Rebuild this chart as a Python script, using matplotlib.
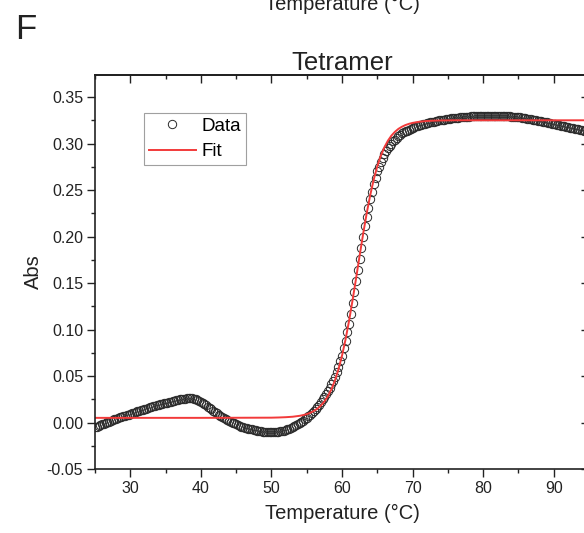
import numpy as np
import matplotlib
matplotlib.use("Agg")
import matplotlib.pyplot as plt
from matplotlib.ticker import MultipleLocator, FormatStrFormatter

plt.rcParams['font.family'] = ['Liberation Sans', 'DejaVu Sans']

# Melting curve, sampled every 0.25 °C from 25 to 95 °C
temp_start, temp_step = 25.0, 0.25
absorbance = [
    -0.0050, -0.0043, -0.0035, -0.0028,
    -0.0020, -0.0012, -0.0005, 0.0003,
    0.0010, 0.0018, 0.0025, 0.0033,
    0.0040, 0.0048, 0.0055, 0.0063,
    0.0070, 0.0075, 0.0080, 0.0085,
    0.0090, 0.0098, 0.0105, 0.0113,
    0.0120, 0.0125, 0.0130, 0.0135,
    0.0140, 0.0148, 0.0155, 0.0163,
    0.0170, 0.0175, 0.0180, 0.0185,
    0.0190, 0.0195, 0.0200, 0.0205,
    0.0210, 0.0215, 0.0220, 0.0225,
    0.0230, 0.0235, 0.0240, 0.0245,
    0.0250, 0.0253, 0.0256, 0.0258,
    0.0260, 0.0261, 0.0261, 0.0260,
    0.0255, 0.0248, 0.0240, 0.0231,
    0.0220, 0.0209, 0.0197, 0.0184,
    0.0170, 0.0155, 0.0140, 0.0125,
    0.0110, 0.0097, 0.0084, 0.0072,
    0.0060, 0.0050, 0.0040, 0.0030,
    0.0020, 0.0010, 0.0000, -0.0010,
    -0.0020, -0.0028, -0.0035, -0.0043,
    -0.0050, -0.0055, -0.0060, -0.0065,
    -0.0070, -0.0075, -0.0080, -0.0085,
    -0.0090, -0.0093, -0.0095, -0.0098,
    -0.0100, -0.0102, -0.0103, -0.0104,
    -0.0105, -0.0105, -0.0104, -0.0102,
    -0.0100, -0.0096, -0.0091, -0.0086,
    -0.0080, -0.0073, -0.0066, -0.0058,
    -0.0050, -0.0041, -0.0031, -0.0021,
    -0.0010, 0.0004, 0.0018, 0.0033,
    0.0050, 0.0067, 0.0085, 0.0102,
    0.0120, 0.0143, 0.0167, 0.0193,
    0.0220, 0.0248, 0.0278, 0.0308,
    0.0340, 0.0375, 0.0412, 0.0451,
    0.0490, 0.0545, 0.0600, 0.0660,
    0.0720, 0.0800, 0.0880, 0.0970,
    0.1060, 0.1170, 0.1280, 0.1400,
    0.1520, 0.1640, 0.1760, 0.1880,
    0.2000, 0.2110, 0.2210, 0.2310,
    0.2400, 0.2480, 0.2560, 0.2630,
    0.2700, 0.2750, 0.2800, 0.2845,
    0.2890, 0.2920, 0.2950, 0.2975,
    0.3000, 0.3022, 0.3043, 0.3062,
    0.3080, 0.3095, 0.3108, 0.3120,
    0.3130, 0.3140, 0.3150, 0.3160,
    0.3170, 0.3177, 0.3184, 0.3190,
    0.3196, 0.3202, 0.3208, 0.3213,
    0.3218, 0.3223, 0.3228, 0.3232,
    0.3236, 0.3240, 0.3244, 0.3248,
    0.3252, 0.3255, 0.3258, 0.3261,
    0.3264, 0.3267, 0.3270, 0.3272,
    0.3274, 0.3277, 0.3279, 0.3281,
    0.3283, 0.3285, 0.3287, 0.3288,
    0.3290, 0.3291, 0.3292, 0.3293,
    0.3294, 0.3295, 0.3296, 0.3297,
    0.3297, 0.3298, 0.3298, 0.3299,
    0.3299, 0.3299, 0.3299, 0.3299,
    0.3298, 0.3298, 0.3297, 0.3296,
    0.3295, 0.3294, 0.3293, 0.3291,
    0.3290, 0.3288, 0.3286, 0.3284,
    0.3282, 0.3280, 0.3278, 0.3275,
    0.3272, 0.3269, 0.3266, 0.3262,
    0.3258, 0.3255, 0.3251, 0.3247,
    0.3243, 0.3239, 0.3235, 0.3231,
    0.3227, 0.3223, 0.3219, 0.3215,
    0.3211, 0.3207, 0.3202, 0.3198,
    0.3193, 0.3189, 0.3185, 0.3180,
    0.3176, 0.3172, 0.3168, 0.3163,
    0.3159, 0.3155, 0.3151, 0.3147,
    0.3143, 0.3139, 0.3135, 0.3131,
    0.3127,
]
temperature = temp_start + temp_step * np.arange(len(absorbance))

# Two-state fit curve
fit_temp = [25, 40, 50, 51, 52, 53, 54, 54.5, 55, 55.5, 56, 56.5, 57, 57.5,
            58, 58.5, 59, 59.5, 60, 60.5, 61, 61.5, 62, 62.5, 63, 63.5, 64,
            64.5, 65, 65.5, 66, 66.5, 67, 67.5, 68, 68.5, 69, 69.5, 70, 71,
            72, 73, 74, 75, 76, 85, 95]
fit_abs = [0.0050, 0.0050, 0.0052, 0.0054, 0.0057, 0.0062, 0.0072, 0.0080,
           0.0090, 0.0104, 0.0123, 0.0148, 0.0181, 0.0225, 0.0283, 0.0357,
           0.0452, 0.0572, 0.0718, 0.0892, 0.1093, 0.1316, 0.1553, 0.1795,
           0.2030, 0.2250, 0.2445, 0.2614, 0.2755, 0.2869, 0.2959, 0.3030,
           0.3085, 0.3126, 0.3158, 0.3181, 0.3199, 0.3212, 0.3222, 0.3235,
           0.3242, 0.3246, 0.3248, 0.3249, 0.3250, 0.3250, 0.3250]

x_ticks = [30, 40, 50, 60, 70, 80, 90]
y_ticks = [-0.05, 0.00, 0.05, 0.10, 0.15, 0.20, 0.25, 0.30, 0.35]

W, H = 584, 533
fig = plt.figure(figsize=(W / 100, H / 100), dpi=100)
ax = fig.add_axes([95 / W, (H - 469) / H, (589 - 95) / W, (469 - 75) / H])

ax.plot(temperature, absorbance, linestyle='none', marker='o',
        markersize=6.0, markerfacecolor='none', markeredgecolor='#2a2a2a',
        markeredgewidth=0.7, label='Data')
ax.plot(fit_temp, fit_abs, color='#f23a3a', linewidth=1.4, label='Fit')

ax.set_xlim(25, 95)
ax.set_ylim(-0.05, 0.3737)
ax.set_xticks(x_ticks)
ax.set_yticks(y_ticks)
ax.xaxis.set_minor_locator(MultipleLocator(5))
ax.yaxis.set_minor_locator(MultipleLocator(0.025))
ax.yaxis.set_major_formatter(FormatStrFormatter('%.2f'))

for side in ax.spines.values():
    side.set_linewidth(1.2)
    side.set_color('#222222')

ax.tick_params(which='both', direction='out', top=False, right=False,
               labelsize=11.5, width=1.0, color='#222222', labelcolor='#222222')
ax.tick_params(which='major', length=5.5, pad=3)
ax.tick_params(which='minor', length=3)

# inward ticks along the top and right edges
sec_x = ax.secondary_xaxis('top')
sec_x.set_xticks(x_ticks)
sec_x.xaxis.set_minor_locator(MultipleLocator(5))
sec_x.tick_params(which='both', direction='in', labeltop=False, width=1.0,
                  color='#222222')
sec_x.tick_params(which='major', length=5.5)
sec_x.tick_params(which='minor', length=3)
sec_x.spines['top'].set_linewidth(1.2)

sec_y = ax.secondary_yaxis('right')
sec_y.set_yticks(y_ticks)
sec_y.yaxis.set_minor_locator(MultipleLocator(0.025))
sec_y.tick_params(which='both', direction='in', labelright=False, width=1.0,
                  color='#222222')
sec_y.tick_params(which='major', length=5.5)
sec_y.tick_params(which='minor', length=3)

ax.set_xlabel('Temperature (°C)', fontsize=14.5, color='#222222', labelpad=6)
ax.set_ylabel('Abs', fontsize=14.5, color='#222222', labelpad=2.5)
ax.set_title('Tetramer', fontsize=18.5, color='#222222', pad=3)

leg = ax.legend(loc='upper left', bbox_to_anchor=(0.0992, 0.9036),
                fontsize=13.5, frameon=True, fancybox=False,
                edgecolor='#888888', handlelength=2.5, handletextpad=0.3,
                borderpad=0.25, labelspacing=0.45, borderaxespad=0)
leg.get_frame().set_linewidth(0.8)

fig.text(15 / W, 1 - 39 / H, 'F', fontsize=25, color='#222222',
         ha='left', va='baseline')
fig.text(342 / W, 1 - 10 / H, 'Temperature (°C)', fontsize=14.5,
         color='#222222', ha='center', va='baseline')

fig.savefig('out.png', dpi=100)
